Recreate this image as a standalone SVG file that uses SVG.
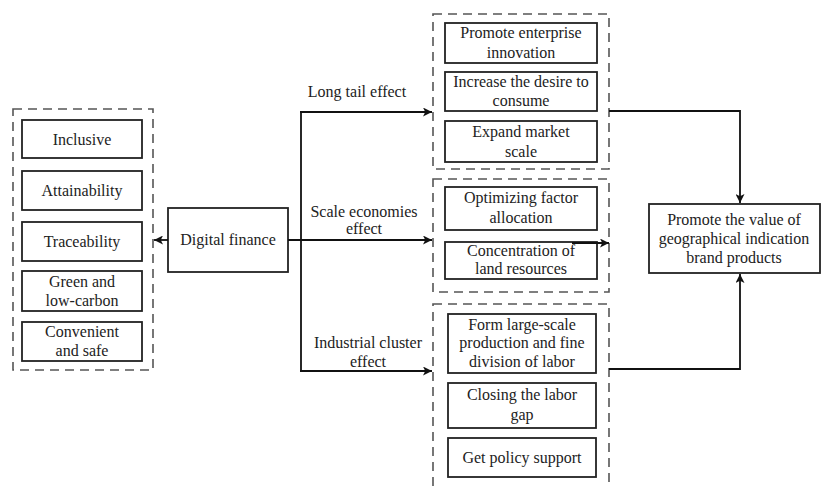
<svg xmlns="http://www.w3.org/2000/svg" width="821" height="487" viewBox="0 0 821 487" font-family="Liberation Serif, Times New Roman, serif">
<defs>
<marker id="arr" viewBox="0 0 10 10" refX="10" refY="5" markerWidth="10" markerHeight="9" markerUnits="userSpaceOnUse" orient="auto">
<path d="M0,0 L10,5 L0,10 L2.5,5 Z" fill="#111"/>
</marker>
<style>
.box{fill:#fff;stroke:#222;stroke-width:1.8}
.dash{fill:none;stroke:#555;stroke-width:1.6;stroke-dasharray:9,6}
text{font-size:16px;fill:#222;text-anchor:middle}
.c{fill:none;stroke:#111;stroke-width:1.8}
</style>
</defs>
<rect width="821" height="487" fill="#fff"/>

<g id="left-group">
<rect class="dash" x="13" y="109" width="140" height="261"/>
<g id="inclusive"><rect class="box" x="22" y="120" width="120" height="38"/><text x="82" y="145">Inclusive</text></g>
<g id="attainability"><rect class="box" x="22" y="171" width="120" height="39"/><text x="82" y="196">Attainability</text></g>
<g id="traceability"><rect class="box" x="22" y="222" width="120" height="39"/><text x="82" y="247">Traceability</text></g>
<g id="green"><rect class="box" x="22" y="271" width="120" height="40"/><text x="82" y="287">Green and</text><text x="82" y="306">low-carbon</text></g>
<g id="convenient"><rect class="box" x="22" y="322" width="120" height="39"/><text x="82" y="337">Convenient</text><text x="82" y="356">and safe</text></g>
</g>

<g id="digital-finance"><rect class="box" x="168" y="208" width="120" height="64"/><text x="228" y="245">Digital finance</text></g>

<g id="long-tail-group">
<rect class="dash" x="433" y="14" width="176" height="155"/>
<g id="innovation"><rect class="box" x="445" y="23" width="152" height="40"/><text x="521" y="38">Promote enterprise</text><text x="521" y="58">innovation</text></g>
<g id="desire"><rect class="box" x="445" y="72" width="152" height="39"/><text x="521" y="87">Increase the desire to</text><text x="521" y="106">consume</text></g>
<g id="market"><rect class="box" x="445" y="121" width="152" height="41"/><text x="521" y="137">Expand market</text><text x="521" y="157">scale</text></g>
</g>

<g id="scale-group">
<rect class="dash" x="433" y="179" width="176" height="113"/>
<g id="factor"><rect class="box" x="445" y="187" width="152" height="43"/><text x="521" y="203">Optimizing factor</text><text x="521" y="223">allocation</text></g>
<g id="land"><rect class="box" x="445" y="242" width="152" height="37"/><text x="521" y="256">Concentration of</text><text x="521" y="274">land resources</text></g>
</g>

<g id="cluster-group">
<rect class="dash" x="433" y="304" width="176" height="200"/>
<g id="division"><rect class="box" x="448" y="314" width="148" height="59"/><text x="522" y="330">Form large-scale</text><text x="522" y="348">production and fine</text><text x="522" y="367">division of labor</text></g>
<g id="labor-gap"><rect class="box" x="448" y="383" width="148" height="45"/><text x="522" y="400">Closing the labor</text><text x="522" y="420">gap</text></g>
<g id="policy"><rect class="box" x="448" y="438" width="148" height="39"/><text x="522" y="463">Get policy support</text></g>
</g>

<g id="brand-value"><rect class="box" x="649" y="204" width="171" height="69"/><text x="734" y="225">Promote the value of</text><text x="734" y="244">geographical indication</text><text x="734" y="263">brand products</text></g>

<g id="connectors">
<line class="c" x1="168" y1="240" x2="154" y2="240" marker-end="url(#arr)"/>
<line class="c" x1="288" y1="240" x2="432" y2="240" marker-end="url(#arr)"/>
<line class="c" x1="301" y1="111" x2="301" y2="372"/>
<line class="c" x1="300" y1="112" x2="432" y2="112" marker-end="url(#arr)"/>
<line class="c" x1="300" y1="371" x2="432" y2="371" marker-end="url(#arr)"/>
<line class="c" x1="572" y1="243" x2="609" y2="243" marker-end="url(#arr)"/>
<polyline class="c" points="609,111 740,111 740,203" marker-end="url(#arr)"/>
<polyline class="c" points="609,369 740,369 740,274" marker-end="url(#arr)"/>
<text x="357" y="97">Long tail effect</text>
<text x="364" y="217">Scale economies</text>
<text x="364" y="234">effect</text>
<text x="368" y="348">Industrial cluster</text>
<text x="368" y="367">effect</text>
</g>
</svg>
